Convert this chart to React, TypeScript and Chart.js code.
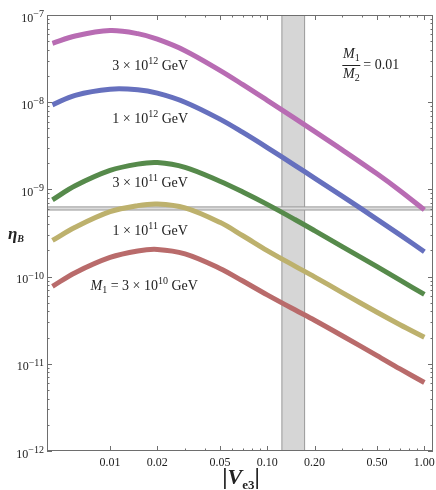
import React, { useEffect, useRef } from 'react';
import Chart from 'chart.js/auto';

// |V_e3| sample points and eta_B for each M1
const vE3 = [0.0043, 0.006, 0.01, 0.015, 0.02, 0.03, 0.05, 0.07, 0.1, 0.15, 0.2, 0.3, 0.5, 0.7, 1.0];
const eta3e12 = [4.74e-8, 5.74e-8, 6.62e-8, 6.11e-8, 5.28e-8, 3.9e-8, 2.32e-8, 1.59e-8, 1.05e-8, 6.52e-9, 4.62e-9, 2.84e-9, 1.51e-9, 9.66e-10, 5.82e-10];
const eta1e12 = [9.31e-9, 1.2e-8, 1.41e-8, 1.39e-8, 1.27e-8, 1.0e-8, 6.4e-9, 4.5e-9, 3.02e-9, 1.89e-9, 1.35e-9, 8.38e-10, 4.54e-10, 3.01e-10, 1.93e-10];
const eta3e11 = [7.6e-10, 1.1e-9, 1.65e-9, 1.95e-9, 2.03e-9, 1.79e-9, 1.24e-9, 9.33e-10, 6.73e-10, 4.52e-10, 3.37e-10, 2.21e-10, 1.3e-10, 9.1e-11, 6.24e-11];
const eta1e11 = [2.6e-10, 3.68e-10, 5.55e-10, 6.52e-10, 6.81e-10, 6.15e-10, 4.19e-10, 2.94e-10, 1.99e-10, 1.32e-10, 9.93e-11, 6.56e-11, 3.9e-11, 2.81e-11, 2.02e-11];
const eta3e10 = [7.73e-11, 1.11e-10, 1.66e-10, 1.97e-10, 2.05e-10, 1.82e-10, 1.24e-10, 8.89e-11, 6.18e-11, 4.16e-11, 3.16e-11, 2.1e-11, 1.24e-11, 8.73e-12, 6.1e-12];

// allowed |V_e3| range and observed eta_B range
const vBand = [0.124, 0.173];
const etaBand = [5.8e-10, 6.3e-10];

const xTicks = [0.01, 0.02, 0.05, 0.1, 0.2, 0.5, 1];
const xTickLabels = ['0.01', '0.02', '0.05', '0.10', '0.20', '0.50', '1.00'];
const xMinor = [0.03, 0.04, 0.06, 0.07, 0.08, 0.09, 0.3, 0.4, 0.6, 0.7, 0.8, 0.9];
const yExponents = [-12, -11, -10, -9, -8, -7];

const serif = '"Liberation Serif", "DejaVu Serif", serif';
const frameColor = '#6e6e6e';

type Part = { t: string; size: number; style?: string; dy?: number };

function drawRich(ctx: CanvasRenderingContext2D, parts: Part[], x: number, y: number, align: 'left' | 'center' | 'right') {
  let w = 0;
  parts.forEach(p => {
    ctx.font = `${p.style ?? ''} ${p.size}px ${serif}`;
    w += ctx.measureText(p.t).width;
  });
  let cx = align === 'center' ? x - w / 2 : align === 'right' ? x - w : x;
  ctx.textAlign = 'left';
  ctx.textBaseline = 'alphabetic';
  parts.forEach(p => {
    ctx.font = `${p.style ?? ''} ${p.size}px ${serif}`;
    ctx.fillText(p.t, cx, y + (p.dy ?? 0));
    cx += ctx.measureText(p.t).width;
  });
}

const gev = (mant: string, exp: string): Part[] => [
  { t: `${mant} × 10`, size: 14 },
  { t: exp, size: 10, dy: -6 },
  { t: ' GeV', size: 14 },
];

// curve labels, anchored at (|V_e3|, eta_B)
const curveLabels: { parts: Part[]; x: number; y: number }[] = [
  { parts: gev('3', '12'), x: 0.018, y: 2.67e-8 },
  { parts: gev('1', '12'), x: 0.018, y: 6.56e-9 },
  { parts: gev('3', '11'), x: 0.018, y: 1.2e-9 },
  { parts: gev('1', '11'), x: 0.018, y: 3.38e-10 },
  {
    parts: [{ t: 'M', size: 14, style: 'italic' }, { t: '1', size: 10, dy: 3 }, { t: ' = ', size: 14 }, ...gev('3', '10')],
    x: 0.0165,
    y: 8.07e-11,
  },
];

const decorPlugin = {
  id: 'decor',
  beforeDatasetsDraw(chart: any) {
    const { ctx, chartArea: a, scales } = chart;
    const xs = scales.x;
    const ys = scales.y;
    ctx.save();
    // vertical band
    const x0 = xs.getPixelForValue(vBand[0]);
    const x1 = xs.getPixelForValue(vBand[1]);
    ctx.fillStyle = '#d6d6d6';
    ctx.fillRect(x0, a.top, x1 - x0, a.bottom - a.top);
    ctx.strokeStyle = '#999';
    ctx.lineWidth = 1;
    ctx.beginPath();
    ctx.moveTo(x0, a.top); ctx.lineTo(x0, a.bottom);
    ctx.moveTo(x1, a.top); ctx.lineTo(x1, a.bottom);
    ctx.stroke();
    // horizontal band
    const y0 = ys.getPixelForValue(etaBand[1]);
    const y1 = ys.getPixelForValue(etaBand[0]);
    ctx.fillStyle = '#dcdcdc';
    ctx.fillRect(a.left, y0, a.right - a.left, y1 - y0);
    ctx.beginPath();
    ctx.moveTo(a.left, y0); ctx.lineTo(a.right, y0);
    ctx.moveTo(a.left, y1); ctx.lineTo(a.right, y1);
    ctx.stroke();
    ctx.restore();
  },
  afterDatasetsDraw(chart: any) {
    const { ctx, chartArea: a, scales } = chart;
    const xs = scales.x;
    const ys = scales.y;
    ctx.save();

    // frame
    ctx.strokeStyle = frameColor;
    ctx.lineWidth = 1;
    ctx.strokeRect(a.left + 0.5, a.top + 0.5, a.right - a.left - 1, a.bottom - a.top - 1);

    // inward ticks on all four sides
    ctx.beginPath();
    const xTick = (v: number, len: number) => {
      const px = Math.round(xs.getPixelForValue(v)) + 0.5;
      ctx.moveTo(px, a.bottom); ctx.lineTo(px, a.bottom - len);
      ctx.moveTo(px, a.top); ctx.lineTo(px, a.top + len);
    };
    const yTick = (v: number, len: number) => {
      const py = Math.round(ys.getPixelForValue(v)) + 0.5;
      ctx.moveTo(a.left, py); ctx.lineTo(a.left + len, py);
      ctx.moveTo(a.right, py); ctx.lineTo(a.right - len, py);
    };
    xTicks.forEach(v => xTick(v, 5));
    xMinor.forEach(v => xTick(v, 2.5));
    yExponents.forEach(n => {
      yTick(Math.pow(10, n), 5);
      if (n < -7) for (let k = 2; k <= 9; k++) yTick(k * Math.pow(10, n), 2.5);
    });
    ctx.stroke();

    ctx.fillStyle = '#222';
    // y tick labels 10^n
    yExponents.forEach(n => {
      const py = ys.getPixelForValue(Math.pow(10, n));
      ctx.font = `10px ${serif}`;
      const ew = ctx.measureText(`−${-n}`).width;
      ctx.textAlign = 'right';
      ctx.textBaseline = 'alphabetic';
      ctx.fillText(`−${-n}`, 44, py + 2);
      ctx.font = `12px ${serif}`;
      ctx.fillText('10', 44 - ew, py + 6.5);
    });

    // curve labels
    curveLabels.forEach(l => {
      drawRich(ctx, l.parts, xs.getPixelForValue(l.x), ys.getPixelForValue(l.y) + 5, 'center');
    });

    // M1/M2 = 0.01
    const fx = xs.getPixelForValue(0.343);
    const fy = ys.getPixelForValue(2.67e-8);
    drawRich(ctx, [{ t: 'M', size: 14, style: 'italic' }, { t: '1', size: 10, dy: 3 }], fx, fy - 7, 'center');
    drawRich(ctx, [{ t: 'M', size: 14, style: 'italic' }, { t: '2', size: 10, dy: 3 }], fx, fy + 13, 'center');
    ctx.strokeStyle = '#222';
    ctx.beginPath();
    ctx.moveTo(fx - 9, fy + 0.5); ctx.lineTo(fx + 9, fy + 0.5);
    ctx.stroke();
    drawRich(ctx, [{ t: '= 0.01', size: 14 }], fx + 12, fy + 4, 'left');

    // axis titles
    drawRich(ctx, [
      { t: 'η', size: 17, style: 'bold italic' },
      { t: 'B', size: 10, style: 'bold italic', dy: 3 },
    ], 8, 239, 'left');
    const cx = (a.left + a.right) / 2;
    drawRich(ctx, [
      { t: '|', size: 24, style: 'bold' },
      { t: 'V', size: 22, style: 'bold italic' },
      { t: 'e3', size: 13, style: 'bold', dy: 5 },
      { t: '|', size: 24, style: 'bold' },
    ], cx + 1, 484, 'center');

    ctx.restore();
  },
};

const series = [
  { label: '3×10^12 GeV', data: eta3e12, color: '#b86cb3' },
  { label: '1×10^12 GeV', data: eta1e12, color: '#6670be' },
  { label: '3×10^11 GeV', data: eta3e11, color: '#568a4b' },
  { label: '1×10^11 GeV', data: eta1e11, color: '#bdb16d' },
  { label: '3×10^10 GeV', data: eta3e10, color: '#b96b6b' },
];

const App: React.FC = () => {
  const canvasRef = useRef<HTMLCanvasElement>(null);
  const chartRef = useRef<Chart | null>(null);

  useEffect(() => {
    if (!canvasRef.current) return;
    if (chartRef.current) chartRef.current.destroy();

    chartRef.current = new Chart(canvasRef.current, {
      type: 'scatter',
      data: {
        datasets: series.map(s => ({
          label: s.label,
          data: vE3.map((x, i) => ({ x, y: s.data[i] })),
          showLine: true,
          borderColor: s.color,
          backgroundColor: s.color,
          borderWidth: 5,
          pointRadius: 0,
          tension: 0.35,
          borderCapStyle: 'butt' as const,
        })),
      },
      options: {
        animation: false,
        responsive: true,
        maintainAspectRatio: false,
        layout: { padding: { top: 15, right: 3, left: 0, bottom: 0 } },
        plugins: {
          legend: { display: false },
          tooltip: { enabled: false },
        },
        scales: {
          x: {
            type: 'logarithmic',
            min: 0.00397,
            max: 1.135,
            grid: { display: false, drawTicks: false },
            border: { display: false },
            afterBuildTicks: (s: any) => {
              s.ticks = xTicks.map(v => ({ value: v }));
            },
            afterFit: (s: any) => {
              s.height = 39;
              s.paddingLeft = 0;
              s.paddingRight = 0;
            },
            ticks: {
              autoSkip: false,
              maxRotation: 0,
              padding: 5,
              color: '#222',
              font: { family: serif, size: 12 },
              callback: (v: any) => xTickLabels[xTicks.indexOf(Number(v))] ?? '',
            },
          },
          y: {
            type: 'logarithmic',
            min: 1e-12,
            max: 1e-7,
            grid: { display: false, drawTicks: false },
            border: { display: false },
            ticks: { display: false },
            afterFit: (s: any) => {
              s.width = 47;
            },
          },
        },
      },
      plugins: [decorPlugin],
    });

    return () => {
      if (chartRef.current) {
        chartRef.current.destroy();
        chartRef.current = null;
      }
    };
  }, []);

  return (
    <div style={{ position: 'fixed', left: 0, top: 0, width: 436, height: 490, background: '#fff' }}>
      <canvas ref={canvasRef} />
    </div>
  );
};

export default App;
